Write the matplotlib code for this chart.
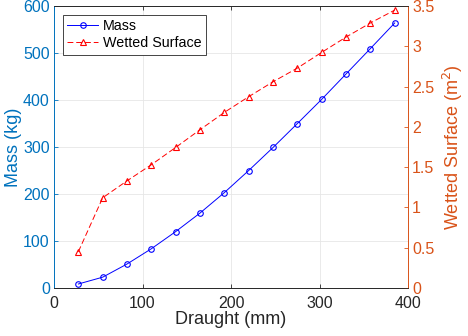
import matplotlib
matplotlib.use("Agg")
import matplotlib.pyplot as plt

draught = [27.5, 55, 82.5, 110, 137.5, 165, 192.5, 220, 247.5, 275, 302.5, 330, 357.5, 385]
mass = [8.5, 23, 51, 83.5, 120, 159.5, 203, 250, 299, 350, 401.5, 455.5, 509.5, 564]
wetted = [0.45, 1.12, 1.33, 1.53, 1.745, 1.965, 2.18, 2.375, 2.56, 2.73, 2.925, 3.115, 3.29, 3.45]

plt.rcParams['font.family'] = ['Liberation Sans', 'DejaVu Sans']

blue_ax = '#0072BD'
orange_ax = '#D95319'
dark = '#262626'

fig = plt.figure(figsize=(4.68, 3.36), dpi=100)
ax = fig.add_axes([0.1154, 0.1429, 0.7564, 0.8391])
ax2 = ax.twinx()

l1, = ax.plot(draught, mass, '-o', color='#0000FF', lw=0.7, ms=4,
              mfc='none', mew=0.8, label='Mass')
l2, = ax2.plot(draught, wetted, '--^', color='#FF0000', lw=0.7, ms=4,
               mfc='none', mew=0.8, dashes=(6, 3), label='Wetted Surface')

ax.set_xlim(0, 400)
ax.set_ylim(0, 600)
ax2.set_ylim(0, 3.5)
ax.set_xticks([0, 100, 200, 300, 400])
ax.set_yticks([0, 100, 200, 300, 400, 500, 600])
ax2.set_yticks([0, 0.5, 1, 1.5, 2, 2.5, 3, 3.5])
ax2.set_yticklabels(['0', '0.5', '1', '1.5', '2', '2.5', '3', '3.5'])

ax.grid(True, color='#E6E6E6', lw=0.6)
ax.set_axisbelow(True)

for a in (ax, ax2):
    a.tick_params(direction='in', length=3, width=0.6, labelsize=11.5)
    for s in a.spines.values():
        s.set_linewidth(0.6)
        s.set_color(dark)
ax.tick_params(axis='x', colors=dark, top=True, pad=6)
ax.tick_params(axis='y', colors=blue_ax, pad=3)
ax2.tick_params(axis='y', colors=orange_ax, pad=3)
ax.spines['left'].set_color(blue_ax)
ax2.spines['left'].set_color(blue_ax)
ax2.spines['right'].set_color(orange_ax)
ax.spines['right'].set_color(orange_ax)

ax.set_xlabel('Draught (mm)', fontsize=13, color=dark, labelpad=0)
ax.set_ylabel('Mass (kg)', fontsize=13, color=blue_ax, labelpad=1)
ax2.set_ylabel('Wetted Surface (m$^2$)', fontsize=13, color=orange_ax, labelpad=5)

leg = ax2.legend(handles=[l1, l2], loc='upper left', fontsize=10.3, fancybox=False,
                 framealpha=1, edgecolor=dark, borderpad=0.3, labelspacing=0.25,
                 handlelength=2.2, handletextpad=0.3, borderaxespad=0.6)
leg.get_frame().set_linewidth(0.6)

fig.savefig('out.png', dpi=100)
